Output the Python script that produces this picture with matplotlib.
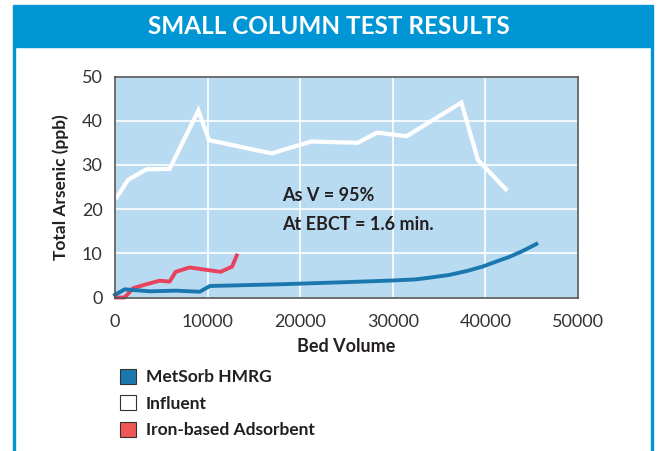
import matplotlib
matplotlib.use("Agg")
import matplotlib.pyplot as plt
from matplotlib.patches import Rectangle, Patch

plt.rcParams["font.family"] = ["Lato", "DejaVu Sans"]

# --- data ---
influent_x = [200, 1400, 3400, 5900, 9000, 10150, 16900, 21200, 26200, 28300, 31500, 37400, 39200, 42200]
influent_y = [22.7, 26.6, 29.0, 29.1, 42.3, 35.6, 32.6, 35.3, 35.0, 37.3, 36.5, 44.1, 31.1, 24.5]

iron_x = [150, 1050, 1950, 3400, 4800, 5900, 6550, 8050, 11400, 12650, 13150]
iron_y = [0.0, 0.0, 2.1, 3.0, 3.8, 3.6, 5.8, 6.8, 5.8, 7.0, 9.5]

metsorb_x = [0, 1050, 3750, 6600, 9150, 10250, 18000, 25300, 28000, 30000, 32500, 34000, 36100, 38000, 39700, 41000, 42600, 44000, 45500]
metsorb_y = [0.6, 1.85, 1.4, 1.55, 1.3, 2.6, 3.0, 3.5, 3.7, 3.85, 4.1, 4.5, 5.1, 6.0, 7.0, 8.0, 9.2, 10.5, 12.1]

x_ticks = [0, 10000, 20000, 30000, 40000, 50000]
y_ticks = [0, 10, 20, 30, 40, 50]

BANNER = "#0096d6"
PLOT_BG = "#b9dbf2"
BLUE = "#1b78ae"
RED = "#e8435e"
TEXT = "#231f20"

fig = plt.figure(figsize=(6.57, 4.51), dpi=100)
W, H = 657, 451

# banner and panel edges
fig.patches.append(Rectangle((13 / W, 1 - 47 / H), 640 / W, 42 / H,
                             transform=fig.transFigure, color=BANNER, zorder=0))
fig.patches.append(Rectangle((13 / W, 0), 1.6 / W, 1 - 47 / H,
                             transform=fig.transFigure, color=BANNER, zorder=0))
fig.patches.append(Rectangle((651 / W, 0), 1.6 / W, 1 - 47 / H,
                             transform=fig.transFigure, color=BANNER, zorder=0))
fig.text(329 / W, 1 - 26 / H, "SMALL COLUMN TEST RESULTS", color="white",
         fontsize=17.5, fontweight="bold", ha="center", va="center")

ax = fig.add_axes([115 / W, 1 - 297.5 / H, 463 / W, 221 / H])
ax.set_facecolor(PLOT_BG)
ax.set_xlim(0, 50000)
ax.set_ylim(0, 50)
ax.set_xticks(x_ticks)
ax.set_yticks(y_ticks)
ax.grid(True, color="white", lw=1.2)
ax.set_axisbelow(True)
ax.tick_params(length=0, labelsize=13, labelcolor="#333333")
ax.tick_params(axis="x", pad=12)
ax.tick_params(axis="y", pad=9)
for s in ax.spines.values():
    s.set_color("#555555")
    s.set_linewidth(1.2)

ax.plot(influent_x, influent_y, color="white", lw=3, solid_joinstyle="miter", clip_on=False)
ax.plot(iron_x, iron_y, color=RED, lw=2.8, clip_on=False)
ax.plot(metsorb_x, metsorb_y, color=BLUE, lw=2.8, clip_on=False)

ax.text(18000, 23, "As V = 95%", fontsize=13, fontweight="bold", color=TEXT, va="center")
ax.text(18000, 16.6, "At EBCT = 1.6 min.", fontsize=13, fontweight="bold", color=TEXT, va="center")

ax.set_xlabel("Bed Volume", fontsize=13, fontweight="bold", color=TEXT, labelpad=6)
ax.set_ylabel("Total Arsenic (ppb)", fontsize=12.5, fontweight="bold", color=TEXT, labelpad=9)

handles = [Patch(facecolor=BLUE, edgecolor="#333333", lw=0.8),
           Patch(facecolor="white", edgecolor="#333333", lw=0.8),
           Patch(facecolor="#ef5757", edgecolor="#333333", lw=0.8)]
labels = ["MetSorb HMRG", "Influent", "Iron-based Adsorbent"]
fig.legend(handles, labels, loc="upper left", bbox_to_anchor=(104 / W, 1 - 353 / H),
           frameon=False, prop={"weight": "bold", "size": 12.5},
           handlelength=0.95, handleheight=0.95, handletextpad=0.55, labelspacing=0.58,
           labelcolor=TEXT)

fig.savefig("out.png", dpi=100)
